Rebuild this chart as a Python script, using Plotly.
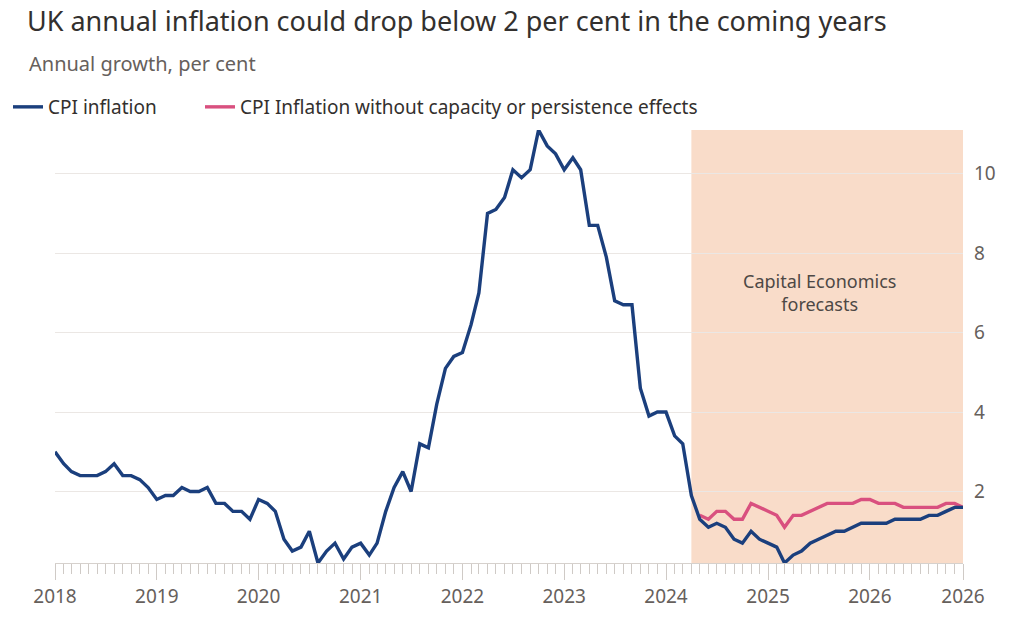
import pandas as pd
import plotly.graph_objects as go

# Monthly UK CPI inflation, Jan 2018 - Dec 2026 (forecast from Apr 2024)
months = pd.date_range("2018-01-01", "2026-12-01", freq="MS")

cpi_2018 = [3.0, 2.7, 2.5, 2.4, 2.4, 2.4, 2.5, 2.7, 2.4, 2.4, 2.3, 2.1]
cpi_2019 = [1.8, 1.9, 1.9, 2.1, 2.0, 2.0, 2.1, 1.7, 1.7, 1.5, 1.5, 1.3]
cpi_2020 = [1.8, 1.7, 1.5, 0.8, 0.5, 0.6, 1.0, 0.2, 0.5, 0.7, 0.3, 0.6]
cpi_2021 = [0.7, 0.4, 0.7, 1.5, 2.1, 2.5, 2.0, 3.2, 3.1, 4.2, 5.1, 5.4]
cpi_2022 = [5.5, 6.2, 7.0, 9.0, 9.1, 9.4, 10.1, 9.9, 10.1, 11.1, 10.7, 10.5]
cpi_2023 = [10.1, 10.4, 10.1, 8.7, 8.7, 7.9, 6.8, 6.7, 6.7, 4.6, 3.9, 4.0]
cpi_2024 = [4.0, 3.4, 3.2, 1.9, 1.3, 1.1, 1.2, 1.1, 0.8, 0.7, 1.0, 0.8]
cpi_2025 = [0.7, 0.6, 0.2, 0.4, 0.5, 0.7, 0.8, 0.9, 1.0, 1.0, 1.1, 1.2]
cpi_2026 = [1.2, 1.2, 1.2, 1.3, 1.3, 1.3, 1.3, 1.4, 1.4, 1.5, 1.6, 1.6]
cpi = cpi_2018 + cpi_2019 + cpi_2020 + cpi_2021 + cpi_2022 + cpi_2023 + cpi_2024 + cpi_2025 + cpi_2026

# CPI without capacity or persistence effects, May 2024 - Dec 2026
alt_months = pd.date_range("2024-05-01", "2026-12-01", freq="MS")
alt_cpi = [1.4, 1.3, 1.5, 1.5, 1.3, 1.3, 1.7, 1.6,
           1.5, 1.4, 1.1, 1.4, 1.4, 1.5, 1.6, 1.7, 1.7, 1.7, 1.7, 1.8,
           1.8, 1.7, 1.7, 1.7, 1.6, 1.6, 1.6, 1.6, 1.6, 1.7, 1.7, 1.6]

forecast_start = "2024-04-01"
forecast_end = "2026-12-01"

tick_dates = ["2018-01-01", "2019-01-01", "2020-01-01", "2021-01-01", "2022-01-01",
              "2023-01-01", "2024-01-01", "2025-01-01", "2026-01-01", "2026-12-01"]
tick_labels = ["2018", "2019", "2020", "2021", "2022", "2023", "2024", "2025", "2026", "2026"]
y_ticks = [2, 4, 6, 8, 10]

FONT = "Noto Sans"
TEXT = "#33302e"
GREY = "#66605c"
BLUE = "#1b3f7d"
PINK = "#d9507f"

# the page adds an 8px body margin, so the figure is drawn 8px smaller
W, H = 1016, 612
L, R, T, B = 47, 61, 122, 57
plot_w = W - L - R
plot_h = H - T - B

fig = go.Figure()

# pink first so the blue line sits on top
fig.add_trace(go.Scatter(
    x=alt_months, y=alt_cpi, mode="lines",
    name="CPI Inflation without capacity or persistence effects",
    line=dict(color=PINK, width=3.4), legend="legend2", showlegend=True,
))
fig.add_trace(go.Scatter(
    x=months, y=cpi, mode="lines", name="CPI inflation",
    line=dict(color=BLUE, width=3.4), legend="legend", showlegend=True,
))

# forecast shading
fig.add_shape(
    type="rect", xref="x", yref="paper",
    x0=forecast_start, x1=forecast_end, y0=0, y1=1,
    fillcolor="#f9dcc9", line_width=0, layer="below",
)

fig.add_annotation(
    x="2025-07-03", y=7.0, xref="x", yref="y",
    text="Capital Economics<br>forecasts", showarrow=False,
    font=dict(family=FONT, size=18, color="#4d4845"),
)

# subtitle
fig.add_annotation(
    x=(19 - L) / plot_w, y=(T + plot_h - 56) / plot_h, xref="paper", yref="paper",
    text="Annual growth, per cent", showarrow=False,
    xanchor="left", yanchor="middle",
    font=dict(family=FONT, size=20, color=GREY),
)

legend_style = dict(
    orientation="h", xanchor="left", y=1 - 99 / H, yanchor="middle",
    xref="container", yref="container",
    font=dict(family=FONT, size=19, color=TEXT), itemwidth=30,
    bgcolor="rgba(0,0,0,0)", visible=True,
)

fig.update_layout(
    width=W, height=H, showlegend=True,
    margin=dict(l=L, r=R, t=T, b=B, autoexpand=False),
    paper_bgcolor="white", plot_bgcolor="white",
    title=dict(
        text="UK annual inflation could drop below 2 per cent in the coming years",
        x=19 / W, xanchor="left", xref="container",
        y=1 - 14 / H, yanchor="middle", yref="container",
        pad=dict(l=0, r=0, t=0, b=0),
        font=dict(family=FONT, size=27, color=TEXT),
    ),
    legend=dict(x=0, **legend_style),
    legend2=dict(x=192 / W, **legend_style),
    font=dict(family=FONT, color=GREY),
)

fig.update_xaxes(
    type="date", range=["2018-01-01", "2026-12-01"],
    tickvals=tick_dates, ticktext=tick_labels,
    ticks="outside", ticklen=16, tickcolor="#cfcac6", tickwidth=1,
    showline=True, linecolor="#d6d1cd", linewidth=1,
    showgrid=False, zeroline=False,
    tickfont=dict(family=FONT, size=19, color=GREY),
    minor=dict(ticks="outside", dtick="M1", tick0="2018-01-01",
               ticklen=10, tickcolor="#cfcac6", showgrid=False),
)
fig.update_yaxes(
    range=[0.2, 11.1], side="right",
    tickvals=y_ticks, ticks="", ticklabelstandoff=10,
    showgrid=True, gridcolor="#ebe7e4", gridwidth=1,
    zeroline=False, showline=False,
    tickfont=dict(family=FONT, size=19, color=GREY),
)

fig.write_html("out.html")
